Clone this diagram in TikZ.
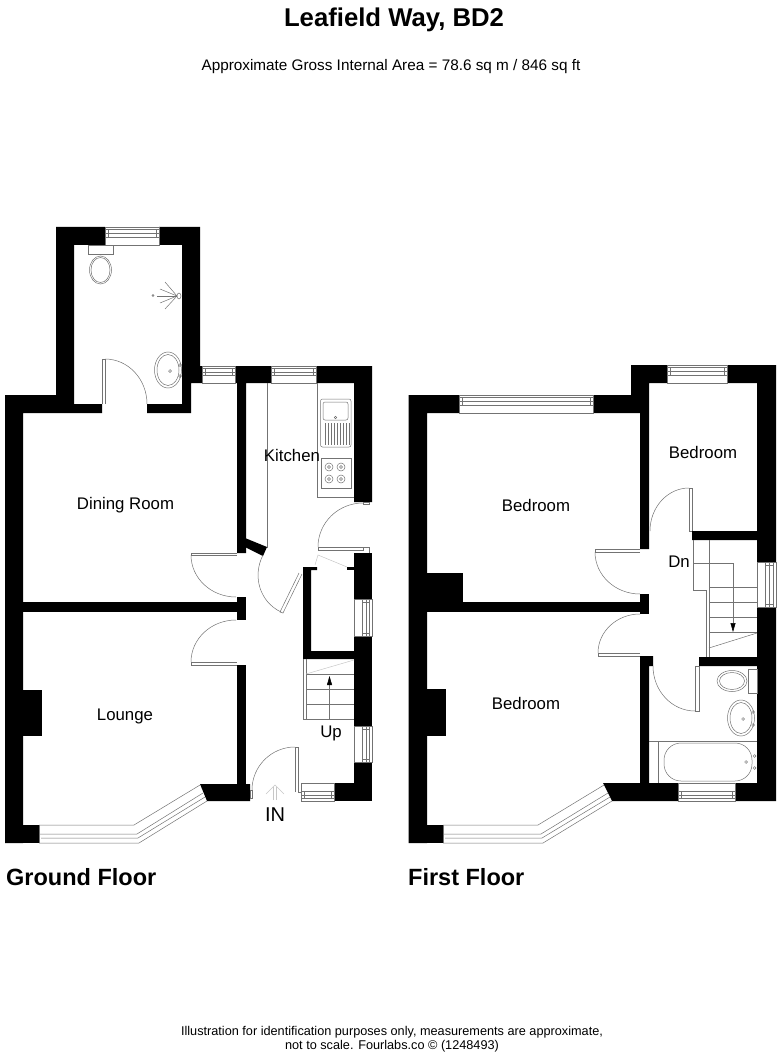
\documentclass[tikz,border=0pt]{standalone}
\usepackage{fontspec}
\setmainfont{Liberation Sans}
\usetikzlibrary{calc, arrows.meta}
\tikzset{
    wall/.style={fill=black},
    fitting/.style={draw=black!55, line width=.5pt},
    pale/.style={draw=black!22, line width=.5pt},
    roomlabel/.style={font=\fontsize{16.8}{18}\selectfont, inner sep=0pt},
    floorlabel/.style={font=\bfseries\fontsize{23.5}{26}\selectfont, inner sep=0pt, anchor=west},
    smalllabel/.style={font=\fontsize{12.7}{15}\selectfont, inner sep=0pt}
}
\newcommand{\doorswing}[3]{\draw[fitting] (#1) .. controls ($(#1)!.5523!(#3)$) and ($(#2)!.5523!(#3)$) .. (#2);}
\newcommand{\windowbox}[4]{
    \draw[fitting] (#1) -- (#2) -- (#4) -- (#3) -- cycle;
    \draw[fitting] ($(#1)!.45!(#3)$) -- ($(#2)!.45!(#4)$);
    \draw[fitting] ($(#1)!.66!(#3)$) -- ($(#2)!.66!(#4)$);
    \draw[fitting] ($(#1)!.87!(#3)$) -- ($(#2)!.87!(#4)$);
    \draw[fitting] ($(#1)!.45!(#3)+($(#1)!3pt!(#2)-(#1)$)$) -- ($(#1)!.87!(#3)+($(#1)!3pt!(#2)-(#1)$)$);
    \draw[fitting] ($(#2)!.45!(#4)+($(#2)!3pt!(#1)-(#2)$)$) -- ($(#2)!.87!(#4)+($(#2)!3pt!(#1)-(#2)$)$);
}
\begin{document}
\begin{tikzpicture}[x=1pt, y=-1pt]
        \useasboundingbox (0,0) rectangle (780,1056);

        % ground floor walls
        \fill[wall] (56,227) -- (105,227) -- (105,245) -- (74,245) -- (74,404) -- (102,404) -- (102,413) -- (23,413) -- (23,843) -- (5,843) -- (5,395) -- (56,395) -- cycle;
        \fill[wall] (159,227) -- (200,227) -- (200,366) -- (202,366) -- (202,383) -- (191,383) -- (191,413) -- (147,413) -- (147,404) -- (182,404) -- (182,245) -- (159,245) -- cycle;
        \fill[wall] (235,366) -- (271,366) -- (271,383) -- (246,383) -- (246,553) -- (237,553) -- (237,383) -- (235,383) -- cycle;
        \fill[wall] (316,366) -- (372,366) -- (372,502) -- (354,502) -- (354,383) -- (316,383) -- cycle;
        \fill[wall] (245,538) -- (267,547) -- (263,556) -- (245,547) -- cycle;
        \fill[wall] (23,602) rectangle (237,612);
        \fill[wall] (237,597) rectangle (246,620);
        \fill[wall] (23,690) rectangle (42,736);
        \fill[wall] (237,665) rectangle (246,784);
        \fill[wall] (200,784) -- (250,784) -- (250,801) -- (207,801) -- cycle;
        \fill[wall] (23,825) rectangle (39,843);
        \fill[wall] (303,567) -- (317,567) -- (317,570) -- (311,570) -- (311,651) -- (354,651) -- (354,659) -- (303,659) -- cycle;
        \fill[wall] (347,567) rectangle (354,570);
        \fill[wall] (354,553) rectangle (372,599);
        \fill[wall] (354,636) rectangle (372,726);
        \fill[wall] (354,762) rectangle (372,801);
        \fill[wall] (334,783) rectangle (354,801);

        % ground floor windows
        \windowbox{105,245}{159,245}{105,227}{159,227}
        \windowbox{202,383}{235,383}{202,366}{235,366}
        \windowbox{271,383}{316,383}{271,366}{316,366}
        \windowbox{354,599}{354,636}{372,599}{372,636}
        \windowbox{354,726}{354,762}{372,726}{372,762}
        \windowbox{301,783}{334,783}{301,801}{334,801}
        \draw[fitting] (39,825) -- (134,825) -- (200,785);
        \draw[fitting] (39,834) -- (137,834) -- (203,793);
        \draw[fitting] (41,838) -- (138,838) -- (205,797);
        \draw[fitting] (39,843) -- (139,843) -- (207,801);
        \draw[fitting] (39,825) -- (39,843);

        % ground floor doors
        \draw[fitting] (102,404) -- (102,359) -- (105,359) -- (105,404);
        \doorswing{105,359}{147,404}{147,359}
        \draw[fitting] (237,553) -- (191,553) -- (191,555) -- (237,555);
        \doorswing{191,555}{236,597}{191,597}
        \draw[fitting] (237,665) -- (191,665) -- (191,662) -- (237,662);
        \doorswing{191,662}{236,620}{191,620}
        \draw[fitting] (299,573) -- (280,612) -- (283,613) -- (302,574);
        \doorswing{281,612}{263,555}{243,594}
        \draw[fitting] (295,792) -- (295,747) -- (298,747) -- (298,792) -- (301,792);
        \doorswing{295,747}{252,790}{252,747}
        \draw[fitting] (252,790) rectangle (250,798);
        \draw[fitting] (318,547) rectangle (363,550);
        \draw[fitting] (363,547) -- (369,547) -- (369,553);
        \doorswing{318,547}{363,503}{318,503}
        \draw[fitting] (363,502) rectangle (369,504);
        \draw[pale] (315,565) -- (318,555) -- (347,567);

        % shower room fittings
        \draw[fitting] (88,245) rectangle (113,254);
        \draw[fitting] (100.5,270) ellipse[x radius=11pt, y radius=14pt];
        \draw[fitting] (100.5,270) ellipse[x radius=9.5pt, y radius=12.5pt];
        \draw[fitting] (168,370) ellipse[x radius=13.5pt, y radius=18pt];
        \draw[fitting] (168,370) ellipse[x radius=11pt, y radius=15.5pt];
        \draw[fitting] (170,371) circle[radius=1.4pt];
        \draw[fitting] (180,365) circle[radius=1.4pt];
        \draw[fitting] (180,376) circle[radius=1.4pt];
        \draw[fitting] (179,296) ellipse[x radius=2pt, y radius=3pt];
        \draw[fitting] (177,296) -- (165,282);
        \draw[fitting] (177,296) -- (160,289);
        \draw[fitting] (177,296) -- (157,296);
        \draw[fitting] (177,296) -- (160,303);
        \draw[fitting] (177,296) -- (165,309);
        \draw[fitting] (153,295.5) circle[radius=1pt];

        % kitchen fittings
        \draw[fitting] (267,383) -- (267,548);
        \draw[fitting] (317.5,383) -- (317.5,497) -- (354,497);
        \draw[fitting, rounded corners=2pt] (320.5,399) rectangle (351,447);
        \draw[fitting, rounded corners=2pt] (323,402) rectangle (348,420);
        \draw[fitting] (335.5,417.5) circle[radius=1.3pt];
        \foreach \xdrain in {325,328,...,349}
            \draw[fitting] (\xdrain,423) -- (\xdrain,445);
        \draw[fitting] (321,458) rectangle (351,488);
        \foreach \xring in {329,341}
            \foreach \yring in {467,479} {
                \draw[fitting] (\xring,\yring) circle[radius=4pt];
                \draw[fitting] (\xring,\yring) circle[radius=1.5pt];
            }

        % ground floor stairs
        \draw[fitting] (303,659) -- (303,719) -- (354,719);
        \draw[fitting] (306,659) -- (306,719);
        \draw[fitting] (306,674) -- (354,674);
        \draw[fitting] (306,689) -- (354,689);
        \draw[fitting] (306,704) -- (354,704);
        \draw[pale] (306,674) -- (354,660);
        \draw[fitting, -{Stealth[length=9pt, width=5pt, inset=0pt, black]}] (329.5,719) -- (329.5,676);

        % entrance arrow
        \draw[pale] (273.5,800) -- (273.5,787);
        \draw[pale] (276.5,800) -- (276.5,787);
        \draw[pale] (266,794) -- (275,785) -- (284,794);

        % first floor walls
        \fill[wall] (408.5,395) -- (459,395) -- (459,413) -- (427,413) -- (427,843) -- (408.5,843) -- cycle;
        \fill[wall] (593,395) -- (631,395) -- (631,365) -- (667,365) -- (667,383) -- (649,383) -- (649,549) -- (640,549) -- (640,413) -- (593,413) -- cycle;
        \fill[wall] (727,365) -- (776,365) -- (776,562) -- (757,562) -- (757,540) -- (692,540) -- (692,531) -- (757,531) -- (757,383) -- (727,383) -- cycle;
        \fill[wall] (427,573) rectangle (463,612);
        \fill[wall] (463,602) rectangle (640,612);
        \fill[wall] (640,594) rectangle (649,614);
        \fill[wall] (427,689) rectangle (446,736);
        \fill[wall] (427,825) rectangle (443,843);
        \fill[wall] (640,656) -- (653,656) -- (653,666) -- (649,666) -- (649,783) -- (678,783) -- (678,801) -- (612,801) -- (603,783) -- (640,783) -- cycle;
        \fill[wall] (757,607) -- (776,607) -- (776,801) -- (735,801) -- (735,783) -- (757,783) -- (757,666) -- (699,666) -- (699,657) -- (757,657) -- cycle;

        % first floor windows
        \windowbox{459,413}{593,413}{459,395}{593,395}
        \windowbox{667,383}{727,383}{667,365}{727,365}
        \windowbox{757,562}{757,607}{776,562}{776,607}
        \windowbox{678,783}{735,783}{678,801}{735,801}
        \draw[fitting] (443,825) -- (538,825) -- (604,785);
        \draw[fitting] (443,834) -- (541,834) -- (608,793);
        \draw[fitting] (445,838) -- (542,838) -- (610,797);
        \draw[fitting] (443,843) -- (543,843) -- (612,801);
        \draw[fitting] (443,825) -- (443,843);

        % first floor doors
        \draw[fitting] (692,531) -- (689,531) -- (689,488) -- (692,488) -- (692,531);
        \doorswing{689,488}{650,531}{650,488}
        \draw[fitting] (640,549) -- (595,549) -- (595,552) -- (640,552);
        \doorswing{595,552}{640,594}{595,594}
        \draw[fitting] (640,656) -- (598,656) -- (598,653) -- (640,653);
        \doorswing{598,653}{640,614}{598,614}
        \draw[fitting] (699,666) -- (695,666) -- (695,711) -- (699,711) -- (699,666);
        \doorswing{653,666}{695,711}{653,711}

        % first floor stairs
        \draw[fitting] (693,540) -- (693,590) -- (706.5,590) -- (706.5,657);
        \draw[fitting] (709,540) -- (709,657);
        \draw[fitting] (693,563) -- (733,563);
        \draw[fitting] (709,587) -- (757,587);
        \draw[fitting] (709,602) -- (757,602);
        \draw[fitting] (709,617) -- (757,617);
        \draw[fitting] (709,632) -- (757,632);
        \draw[fitting] (709,648) -- (757,633);
        \draw[fitting, -{Stealth[length=9pt, width=5pt, inset=0pt, black]}] (733,563) -- (733,632);

        % bathroom fittings
        \draw[fitting] (649,741) -- (757,741);
        \draw[fitting] (658,741) -- (658,783);
        \draw[fitting, rounded corners=17pt] (664,743) rectangle (752,781);
        \draw[fitting] (746,762) circle[radius=1.4pt];
        \draw[fitting] (754.5,756) circle[radius=1.4pt];
        \draw[fitting] (754.5,768) circle[radius=1.4pt];
        \draw[fitting] (748,669) rectangle (757,693);
        \draw[fitting] (732,681) ellipse[x radius=15pt, y radius=10.5pt];
        \draw[fitting] (732,681) ellipse[x radius=12.5pt, y radius=8.5pt];
        \draw[fitting] (741,718) ellipse[x radius=13.5pt, y radius=18pt];
        \draw[fitting] (741,718) ellipse[x radius=11pt, y radius=15.5pt];
        \draw[fitting] (743,719) circle[radius=1.4pt];
        \draw[fitting] (753,712) circle[radius=1.4pt];
        \draw[fitting] (753,725) circle[radius=1.4pt];

        % labels
        \node[inner sep=0pt, font=\bfseries\fontsize{25.7}{28}\selectfont] (title) at (394,20) {Leafield Way, BD2};
        \node[inner sep=0pt, font=\fontsize{15.3}{17}\selectfont] (area) at (391,67) {Approximate Gross Internal Area = 78.6 sq m / 846 sq ft};
        \node[roomlabel] (diningroom) at (125.5,505) {Dining Room};
        \node[roomlabel] (kitchen) at (292,455) {Kitchen};
        \node[roomlabel] (lounge) at (125,716) {Lounge};
        \node[roomlabel] (upstairs) at (331,733) {Up};
        \node[roomlabel, font=\fontsize{20}{22}\selectfont] (entrance) at (275,815) {IN};
        \node[roomlabel] (bedroomback) at (536,505) {Bedroom};
        \node[roomlabel] (bedroomsmall) at (703,452) {Bedroom};
        \node[roomlabel] (bedroomfront) at (526,703) {Bedroom};
        \node[roomlabel] (downstairs) at (679,562) {Dn};
        \node[floorlabel] (groundfloor) at (6,877) {Ground Floor};
        \node[floorlabel] (firstfloor) at (408,877) {First Floor};
        \node[smalllabel] (noteone) at (392,1032) {Illustration for identification purposes only, measurements are approximate,};
        \node[smalllabel] (notetwo) at (392,1046) {not to scale. Fourlabs.co © (1248493)};
\end{tikzpicture}
\end{document}
